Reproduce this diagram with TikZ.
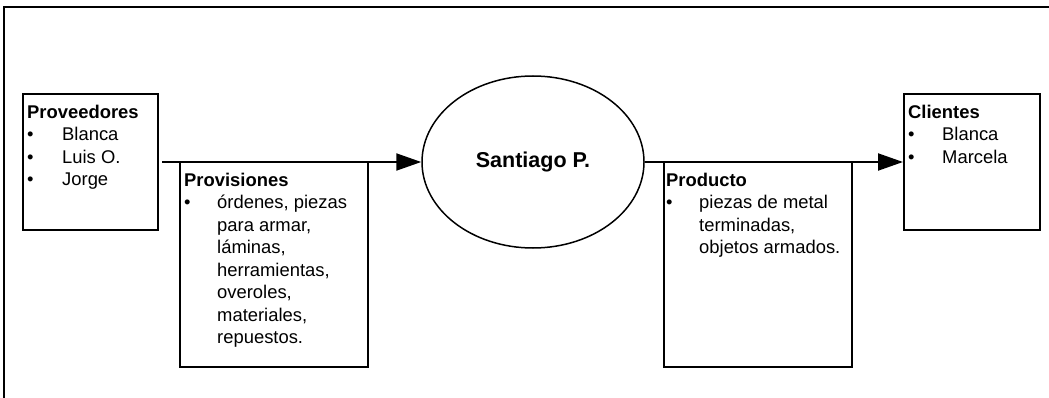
\documentclass[tikz,border=0pt]{standalone}
\usepackage{fontspec}
\setmainfont{Liberation Sans}
\usetikzlibrary{arrows.meta,shapes.geometric}
\begin{document}
\begin{tikzpicture}[x=1pt,y=-1pt,
  every node/.style={font=\fontsize{18.4}{22.5}\selectfont},
  boxframe/.style={draw,line width=2pt,rectangle,inner sep=0pt},
  listtext/.style={anchor=north west,inner sep=0pt,align=left},
  flow/.style={line width=2pt,-{Triangle[length=25pt,width=17pt]}},
  hub/.style={draw,line width=1.5pt,ellipse,inner sep=0pt,
    minimum width=222pt,minimum height=172pt,
    font=\fontsize{21.5}{26}\selectfont\bfseries}]
\useasboundingbox (0,0) rectangle (1049,398);
% outer frame (top and left edges)
\draw[line width=2pt] (3.5,398) -- (3.5,7.5) -- (1049,7.5);

% boxes
\node[boxframe,minimum width=135pt,minimum height=136pt] (prov) at (90.5,162) {};
\node[boxframe,minimum width=188pt,minimum height=205pt] (provis) at (274,264.5) {};
\node[hub] (sp) at (533,162) {Santiago P.};
\node[boxframe,minimum width=188pt,minimum height=205pt] (prod) at (758,264.5) {};
\node[boxframe,minimum width=136pt,minimum height=136pt] (cli) at (972,162) {};

% box contents
\node[listtext] (provtxt) at ([shift={(5,9.5)}]prov.north west)
  {\begin{tabular}{@{}p{35pt}@{}l@{}}
   \multicolumn{2}{@{}l@{}}{\bfseries Proveedores}\\
   \textbullet & Blanca\\
   \textbullet & Luis O.\\
   \textbullet & Jorge
   \end{tabular}};
\node[listtext] (provistxt) at ([shift={(5,9.5)}]provis.north west)
  {\begin{tabular}{@{}p{33pt}@{}l@{}}
   \multicolumn{2}{@{}l@{}}{\bfseries Provisiones}\\
   \textbullet & órdenes, piezas\\
   & para armar,\\
   & láminas,\\
   & herramientas,\\
   & overoles,\\
   & materiales,\\
   & repuestos.
   \end{tabular}};
\node[listtext] (prodtxt) at ([shift={(3,9.5)}]prod.north west)
  {\begin{tabular}{@{}p{33pt}@{}l@{}}
   \multicolumn{2}{@{}l@{}}{\bfseries Producto}\\
   \textbullet & piezas de metal\\
   & terminadas,\\
   & objetos armados.
   \end{tabular}};
\node[listtext] (clitxt) at ([shift={(5,9.5)}]cli.north west)
  {\begin{tabular}{@{}p{34pt}@{}l@{}}
   \multicolumn{2}{@{}l@{}}{\bfseries Clientes}\\
   \textbullet & Blanca\\
   \textbullet & Marcela
   \end{tabular}};

% flows
\draw[flow] ([xshift=3pt]prov.east) -- (sp.west);
\draw[flow] (sp.east) -- (cli.west);
\end{tikzpicture}
\end{document}
